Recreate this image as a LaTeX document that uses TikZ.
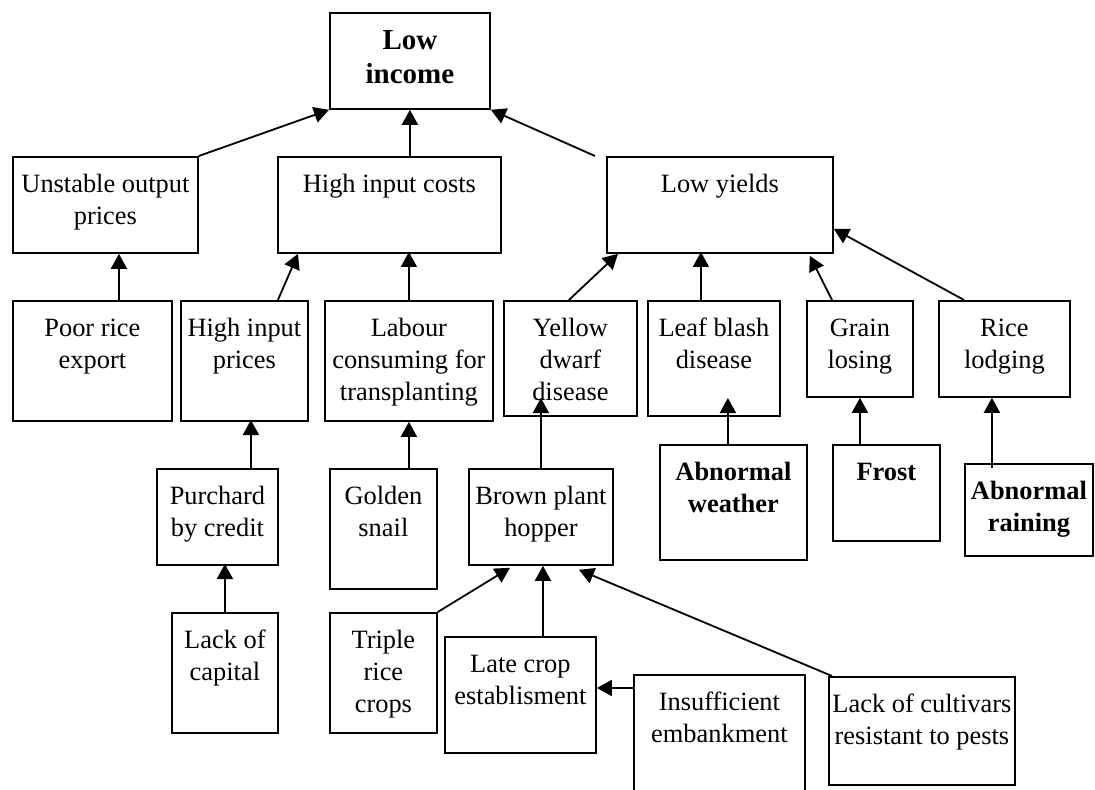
\documentclass[tikz,border=0pt]{standalone}
\usepackage{fontspec}
\setmainfont{Liberation Serif}
\usetikzlibrary{arrows.meta}
% one drawing unit = 0.5pt
\newlength\px \setlength\px{0.5pt}
\newlength\toppad \setlength\toppad{6.9pt}
% box of fixed width/height (in units), text set from the top
\newcommand\cellbox[3]{\parbox[c][#2\px][t]{#1\px}{\centering\vspace*{\toppad}\leavevmode\strut #3\par}}
\begin{document}
\begin{tikzpicture}[x=0.5pt,y=-0.5pt,
  box/.style={draw, line width=0.9pt, inner sep=0pt, anchor=north west,
              font=\fontsize{13.2}{15.85}\selectfont},
  arr/.style={-{Triangle[length=7.5pt,width=8pt]}, line width=0.9pt}]
\useasboundingbox (0,0) rectangle (1095,790);
\clip (0,0) rectangle (1095,790);

% top level
\node[box, font=\fontsize{14.5}{16.6}\selectfont] (inc) at (329,12)
  {\cellbox{160}{96}{\bfseries Low\\income}};
% second level
\node[box] (uop) at (12,156)  {\cellbox{185}{96}{Unstable output\\prices}};
\node[box] (hic) at (277,156) {\cellbox{223}{96}{High input costs}};
\node[box] (ly)  at (606,156) {\cellbox{226}{96}{Low yields}};
% third level
\node[box] (pre) at (12,300)  {\cellbox{159}{120}{Poor rice\\export}};
\node[box] (hip) at (180,300) {\cellbox{127}{120}{High input\\prices}};
\node[box] (lab) at (324,300) {\cellbox{168}{120}{Labour\\consuming for\\transplanting}};
\node[box] (ydd) at (503,300) {\cellbox{133}{115}{Yellow\\dwarf\\disease}};
\node[box] (lbd) at (647,300) {\cellbox{132}{115}{Leaf blash\\disease}};
\node[box] (gl)  at (806,300) {\cellbox{106}{96}{Grain\\losing}};
\node[box] (rl)  at (938,300) {\cellbox{131}{96}{Rice\\lodging}};
% fourth level
\node[box] (pbc) at (156,468) {\cellbox{121}{96}{Purchard\\by credit}};
\node[box] (gs)  at (329,468) {\cellbox{107}{120}{Golden\\snail}};
\node[box] (bph) at (468,468) {\cellbox{144}{96}{Brown plant\\hopper}};
\node[box] (aw)  at (659,444) {\cellbox{147}{115}{\bfseries Abnormal\\weather}};
\node[box] (fr)  at (832,444) {\cellbox{107}{96}{\bfseries Frost}};
\node[box] (ar)  at (964,463) {\cellbox{128}{92}{\bfseries Abnormal\\raining}};
% bottom level
\node[box] (lc)  at (171,612) {\cellbox{106}{120}{Lack of\\capital}};
\node[box] (trc) at (329,612) {\cellbox{107}{120}{Triple\\rice\\crops}};
\node[box] (lce) at (444,636) {\cellbox{151}{116}{Late crop\\establisment}};
\node[box] (ie)  at (633,674) {\cellbox{171}{130}{Insufficient\\embankment}};
\node[box] (lcv) at (828,676) {\cellbox{186}{108}{Lack of cultivars\\resistant to pests}};

% causes of low income
\draw[arr] (uop.north east) -- (inc.south west);
\draw[arr] ([yshift=-48\px]inc.south) -- (inc.south);
\draw[arr] ([xshift=-11\px]ly.north west) -- (inc.south east);
% second level causes
\draw[arr] ([xshift=26.5\px]pre.north) -- ([xshift=13.5\px]uop.south);
\draw[arr] ([xshift=33.5\px]hip.north) -- ([xshift=21\px]hic.south west);
\draw[arr] (lab.north) -- ([yshift=48\px]lab.north);
\draw[arr] ([xshift=-1.5\px]ydd.north) -- ([xshift=12\px]ly.south west);
\draw[arr] ([xshift=-13\px]lbd.north) -- ([xshift=-13\px,yshift=48\px]lbd.north);
\draw[arr] ([xshift=26\px]gl.north west) -- ([xshift=-24\px,yshift=-2\px]ly.south east);
\draw[arr] ([xshift=26\px]rl.north west) -- ([yshift=-24\px]ly.east);
% third level causes
\draw[arr] ([xshift=33.5\px]pbc.north) -- ([xshift=33.5\px,yshift=48\px]pbc.north);
\draw[arr] ([xshift=25.5\px]gs.north) -- (lab.south);
\draw[arr] (bph.north) -- ([yshift=70\px]bph.north);
\draw[arr] ([xshift=-5.5\px]aw.north) -- ([xshift=-5.5\px,yshift=46\px]aw.north);
\draw[arr] ([xshift=-26.5\px]fr.north) -- (gl.south);
\draw[arr] ([xshift=-37\px,yshift=-5\px]ar.north) -- ([xshift=-12.5\px]rl.south);
% bottom level causes
\draw[arr] (lc.north) -- ([yshift=48\px]lc.north);
\draw[arr] (trc.north east) -- ([xshift=42\px,yshift=-2\px]bph.south west);
\draw[arr] ([xshift=22.5\px]lce.north) -- ([xshift=2\px]bph.south);
\draw[arr] ([xshift=4\px]lcv.north west) -- ([xshift=38\px,yshift=-4\px]bph.south);
\coordinate (iestart) at ([yshift=-14\px]ie.north west);
\draw[arr] (iestart) -- (iestart -| lce.east);
\end{tikzpicture}
\end{document}
